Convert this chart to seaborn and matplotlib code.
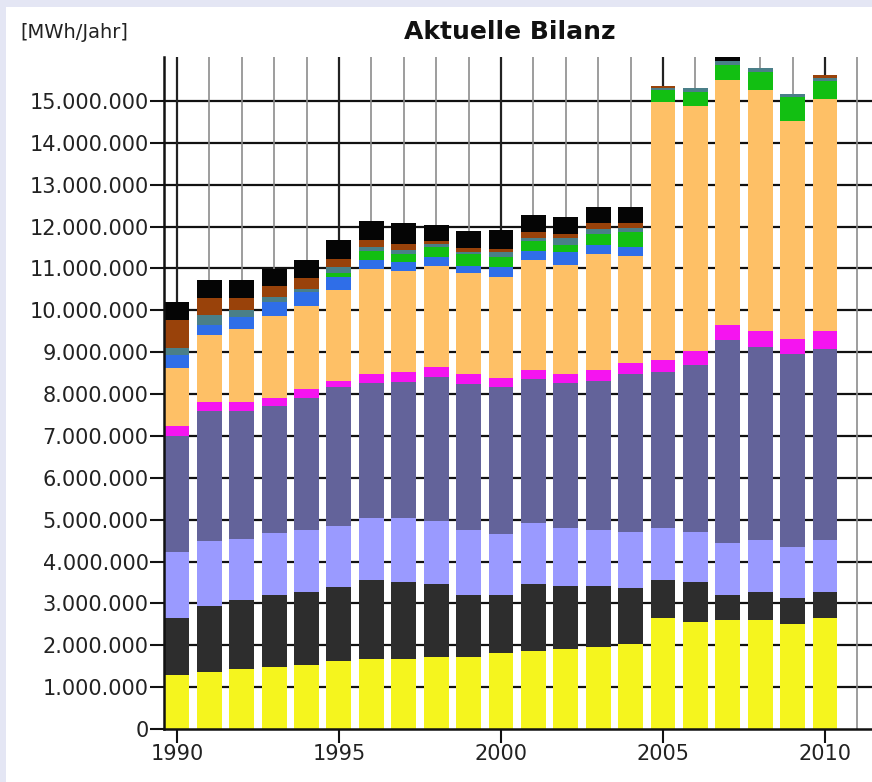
import numpy as np
import pandas as pd
import seaborn as sns
import matplotlib
matplotlib.use("Agg")
import matplotlib.pyplot as plt
from matplotlib.patches import Rectangle
from matplotlib.ticker import FuncFormatter, FixedLocator

# --- data (million MWh per year, bottom layer first) ---
years = list(range(1990, 2011))

yellow = [1.29, 1.35, 1.43, 1.47, 1.54, 1.63, 1.68, 1.68, 1.73, 1.73, 1.82,
          1.87, 1.92, 1.96, 2.02, 2.66, 2.55, 2.60, 2.60, 2.50, 2.66]
darkgray = [1.35, 1.59, 1.65, 1.74, 1.74, 1.75, 1.89, 1.84, 1.73, 1.48, 1.39,
            1.59, 1.49, 1.45, 1.35, 0.91, 0.97, 0.61, 0.67, 0.63, 0.61]
lavender = [1.59, 1.55, 1.45, 1.48, 1.47, 1.47, 1.46, 1.51, 1.50, 1.54, 1.44,
            1.45, 1.38, 1.34, 1.34, 1.22, 1.19, 1.24, 1.24, 1.22, 1.24]
slate = [2.77, 3.11, 3.07, 3.03, 3.16, 3.32, 3.24, 3.26, 3.45, 3.50, 3.52,
         3.44, 3.48, 3.56, 3.76, 3.74, 3.98, 4.83, 4.61, 4.61, 4.57]
magenta = [0.24, 0.21, 0.21, 0.19, 0.20, 0.14, 0.22, 0.24, 0.24, 0.24, 0.22,
           0.23, 0.22, 0.27, 0.26, 0.29, 0.34, 0.36, 0.39, 0.36, 0.43]
orange = [1.39, 1.59, 1.75, 1.95, 1.99, 2.17, 2.49, 2.41, 2.40, 2.40, 2.41,
          2.61, 2.60, 2.76, 2.56, 6.15, 5.84, 5.86, 5.74, 5.21, 5.54]
blue = [0.30, 0.24, 0.28, 0.34, 0.34, 0.32, 0.21, 0.21, 0.22, 0.18, 0.23,
        0.23, 0.30, 0.21, 0.22, 0.00, 0.00, 0.00, 0.00, 0.00, 0.00]
green = [0.00, 0.00, 0.00, 0.00, 0.00, 0.10, 0.23, 0.20, 0.24, 0.28, 0.24,
         0.23, 0.16, 0.28, 0.36, 0.30, 0.35, 0.37, 0.44, 0.56, 0.42]
teal = [0.16, 0.24, 0.16, 0.12, 0.08, 0.13, 0.09, 0.08, 0.07, 0.05, 0.12,
        0.08, 0.18, 0.12, 0.10, 0.04, 0.09, 0.08, 0.10, 0.08, 0.08]
brown = [0.67, 0.42, 0.30, 0.25, 0.26, 0.20, 0.16, 0.15, 0.07, 0.10, 0.08,
         0.14, 0.10, 0.13, 0.11, 0.04, 0.00, 0.00, 0.00, 0.00, 0.06]
black = [0.44, 0.43, 0.43, 0.42, 0.43, 0.46, 0.46, 0.50, 0.39, 0.39, 0.44,
         0.41, 0.40, 0.39, 0.39, 0.00, 0.00, 0.10, 0.00, 0.00, 0.00]

layers = [yellow, darkgray, lavender, slate, magenta, orange,
          blue, green, teal, brown, black]
colors = ["#f5f51e", "#2d2d2d", "#9a9aff", "#63639a", "#f514f0", "#fec066",
          "#2f6ee8", "#12bf12", "#4a7f88", "#99420a", "#050505"]

y_ticks = [v * 1e6 for v in range(0, 16)]
x_ticks = [1990, 1995, 2000, 2005, 2010]


def main():
    sns.set_theme(style="white")
    plt.rcParams["font.family"] = ["DejaVu Sans"]

    fig = plt.figure(figsize=(8.72, 7.82), dpi=100)
    fig.patch.set_facecolor("#e4e6f4")
    fig.patches.append(Rectangle((6 / 872, 0), 1, 1 - 7 / 782,
                                 transform=fig.transFigure,
                                 facecolor="white", edgecolor="none",
                                 zorder=-10))

    ax = fig.add_axes([164 / 872, 1 - 729 / 782, 1 - 164 / 872, (729 - 57) / 782])
    ax.set_facecolor("none")

    # stacked bars: draw cumulative totals from the top layer down
    tops = np.cumsum(np.array(layers) * 1e6, axis=0)
    for i in range(len(layers) - 1, -1, -1):
        df = pd.DataFrame({"Jahr": years, "Wert": tops[i]})
        sns.barplot(data=df, x="Jahr", y="Wert", color=colors[i],
                    native_scale=True, width=0.77, saturation=1,
                    linewidth=0, ax=ax, zorder=3)

    # grid
    for yv in y_ticks[1:]:
        ax.axhline(yv, color="#111111", lw=1.6, zorder=1)
    for xv in range(1990, 2012):
        strong = xv % 5 == 0
        ax.axvline(xv, color="#222222" if strong else "#8c8c8c",
                   lw=1.6 if strong else 1.2, zorder=1)

    ax.set_xlim(1989.6, 2011.45)
    ax.set_ylim(0, 16.05e6)
    ax.yaxis.set_major_locator(FixedLocator(y_ticks))
    ax.yaxis.set_major_formatter(
        FuncFormatter(lambda v, p: f"{int(round(v)):,}".replace(",", ".")))
    ax.set_xticks(x_ticks)
    ax.set_xticklabels([str(x) for x in x_ticks])
    ax.tick_params(axis="both", direction="out", length=10, width=1.5,
                   color="#111111", labelsize=15, labelcolor="#222222",
                   left=True, bottom=True)
    ax.tick_params(axis="x", pad=1)
    ax.tick_params(axis="y", pad=1)
    ax.set_xlabel("")
    ax.set_ylabel("")

    for side in ["top", "right"]:
        ax.spines[side].set_visible(False)
    for side in ["left", "bottom"]:
        ax.spines[side].set_color("#111111")
        ax.spines[side].set_linewidth(1.8)
        ax.spines[side].set_zorder(5)

    fig.text(510 / 872, 1 - 32 / 782, "Aktuelle Bilanz", ha="center",
             va="center", fontsize=18, fontweight="bold", color="#111111")
    fig.text(20 / 872, 1 - 32 / 782, "[MWh/Jahr]", ha="left", va="center",
             fontsize=14, color="#222222")

    fig.savefig("out.png", dpi=100, facecolor=fig.get_facecolor())


if __name__ == "__main__":
    main()
